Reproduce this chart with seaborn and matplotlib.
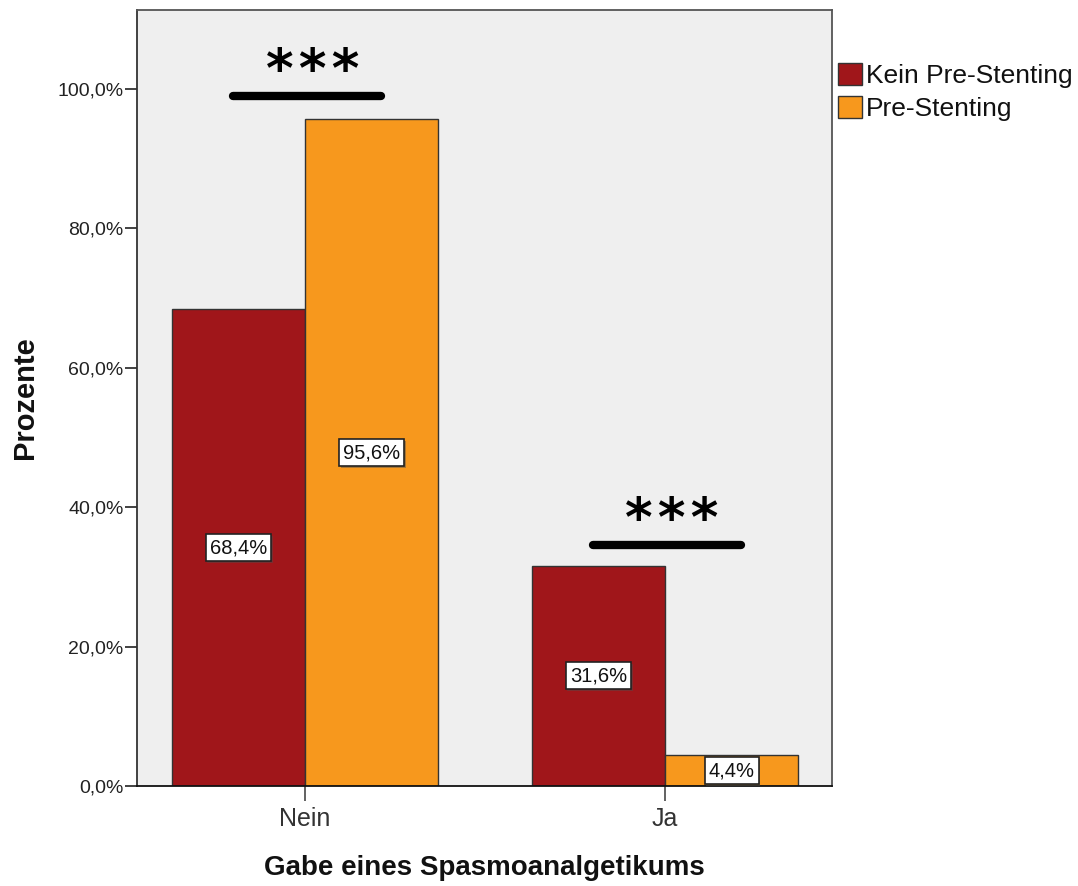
import matplotlib
matplotlib.use("Agg")
import matplotlib.pyplot as plt
import matplotlib.patheffects as pe
import seaborn as sns
import pandas as pd

# Data
categories = ["Nein", "Ja"]
groups = ["Kein Pre-Stenting", "Pre-Stenting"]
kein_pre = [68.4, 31.6]
pre = [95.6, 4.4]
y_ticks = [0, 20, 40, 60, 80, 100]
y_tick_labels = ["0,0%", "20,0%", "40,0%", "60,0%", "80,0%", "100,0%"]
# significance bars: (category index, bar height in %)
sig_bars = [(0, 99.0), (1, 34.6)]

df = pd.DataFrame({
    "Gabe": categories * 2,
    "Gruppe": [groups[0]] * 2 + [groups[1]] * 2,
    "Prozent": kein_pre + pre,
})

sns.set_theme(style="white")
plt.rcParams["font.family"] = ["Liberation Sans", "DejaVu Sans"]

palette = {groups[0]: "#A0161A", groups[1]: "#F7981D"}

fig = plt.figure(figsize=(10.78, 8.86), dpi=100)
ax = fig.add_axes([0.127, 0.1129, 0.6448, 0.8758])
ax.set_facecolor("#EFEFEF")

sns.barplot(data=df, x="Gabe", y="Prozent", hue="Gruppe", order=categories,
            hue_order=groups, palette=palette, width=0.74, saturation=1,
            edgecolor="#333333", linewidth=1.0, ax=ax)

ax.set_xlim(-0.467, 1.464)
ax.set_ylim(0, 111.3)
ax.set_yticks(y_ticks)
ax.set_yticklabels(y_tick_labels, fontsize=14, color="#222222")
ax.tick_params(axis="y", direction="out", length=9, width=1.3, color="#333333", pad=0.5, left=True)
ax.tick_params(axis="x", direction="out", length=11, width=1.3, color="#555555", labelsize=18, pad=4, bottom=True)
for lab in ax.get_xticklabels():
    lab.set_color("#333333")

ax.set_xlabel("Gabe eines Spasmoanalgetikums", fontsize=20, fontweight="bold", color="#111111")
ax.set_ylabel("Prozente", fontsize=21, fontweight="bold", color="#111111")
ax.xaxis.set_label_coords(0.5, -0.0889)
ax.yaxis.set_label_coords(-0.141, 0.501)

for side in ["left", "bottom", "right", "top"]:
    ax.spines[side].set_visible(True)
    ax.spines[side].set_linewidth(1.3)
    ax.spines[side].set_color("#555555")
ax.spines["left"].set_color("#333333")
ax.spines["bottom"].set_color("#111111")

# value labels at mid-height of each bar
for container in ax.containers:
    for bar in container:
        h = bar.get_height()
        t = ax.text(bar.get_x() + bar.get_width() / 2, h / 2,
                    f"{h:.1f}%".replace(".", ","), ha="center", va="center",
                    fontsize=14.5, color="#111111", zorder=5,
                    bbox=dict(boxstyle="square,pad=0.2", facecolor="white",
                              edgecolor="#222222", linewidth=1.2))
        t.get_bbox_patch().set_path_effects(
            [pe.SimplePatchShadow(offset=(1.2, -1.2), alpha=0.45), pe.Normal()])

# significance markers
for idx, y in sig_bars:
    ax.plot([idx - 0.2, idx + 0.21], [y, y], color="black", linewidth=6,
            solid_capstyle="round", zorder=4)
    ax.text(idx + 0.02, y + 1.3, "*\u200a*\u200a*", ha="center", va="baseline",
            fontsize=38, fontweight="bold", color="black",
            family=["DejaVu Sans"], zorder=4)

leg = ax.legend(title=None, loc="upper left", bbox_to_anchor=(1.0086, 0.932),
                frameon=False, fontsize=19, handlelength=0.92, handleheight=0.92,
                handletextpad=0.15, borderaxespad=0, borderpad=0, labelspacing=0.3)
for h in leg.get_patches():
    h.set_edgecolor("#333333")
for txt in leg.get_texts():
    txt.set_color("#111111")

fig.savefig("out.png", dpi=100)
